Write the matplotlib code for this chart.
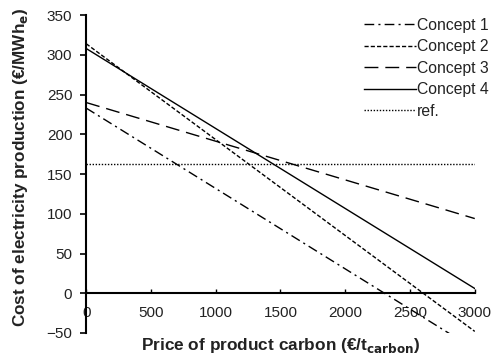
import matplotlib
matplotlib.use("Agg")
import matplotlib.pyplot as plt
import numpy as np

plt.rcParams['font.family'] = ['Liberation Sans', 'DejaVu Sans']

x_vals = [0, 3000]
concept1 = [233, -70.5]
concept2 = [314, -48]
concept3 = [240, 94]
concept4 = [308, 6]
ref = [163, 163]
labels = ["Concept 1", "Concept 2", "Concept 3", "Concept 4", "ref."]
xticks = [0, 500, 1000, 1500, 2000, 2500, 3000]
yticks = [-50, 0, 50, 100, 150, 200, 250, 300, 350]

fig = plt.figure(figsize=(5.04, 3.6), dpi=100)
ax = fig.add_axes([0.171, 0.075, 0.771, 0.883])

styles = [
    dict(dashes=(7, 3, 1.5, 3)),
    dict(dashes=(3, 1.5)),
    dict(dashes=(10, 5)),
    dict(linestyle='-'),
    dict(dashes=(1, 1.2)),
]
for ys, lab, st in zip([concept1, concept2, concept3, concept4, ref], labels, styles):
    ax.plot(x_vals, ys, color='black', lw=1.0, label=lab, clip_on=True, **st)

ax.set_xlim(0, 3000)
ax.set_ylim(-50, 350)
ax.set_xticks(xticks)
ax.set_yticks(yticks)
ax.spines['top'].set_visible(False)
ax.spines['right'].set_visible(False)
ax.spines['bottom'].set_position(('data', 0))
ax.spines['bottom'].set_linewidth(1.5)
ax.spines['left'].set_linewidth(1.5)
ax.tick_params(axis='y', direction='out', length=4, width=1.2, labelsize=11, pad=6, colors='black')
ax.tick_params(axis='x', direction='in', length=3, width=1.0, labelsize=11, pad=9)
for t in ax.get_xticklabels() + ax.get_yticklabels():
    t.set_color('#222222')

ax.set_xlabel(r"Price of product carbon (€/t$_{\mathbf{carbon}}$)", fontsize=12.4, fontweight='bold', color='#222222')
ax.xaxis.label.set_verticalalignment('top')
ax.xaxis.set_label_coords(0.5, -0.01, transform=ax.transAxes)
ax.set_ylabel(r"Cost of electricity production (€/MWh$_{\mathbf{e}}$)", fontsize=12.3, fontweight='bold', color='#222222')
ax.yaxis.set_label_coords(-0.145, 0.52)

leg = ax.legend(loc='upper right', bbox_to_anchor=(1.052, 1.012), frameon=False, fontsize=11.3,
                handlelength=3.3, handletextpad=0.05, labelspacing=0.42, borderaxespad=0)
for t in leg.get_texts():
    t.set_color('#222222')

fig.savefig("out.png", dpi=100)
